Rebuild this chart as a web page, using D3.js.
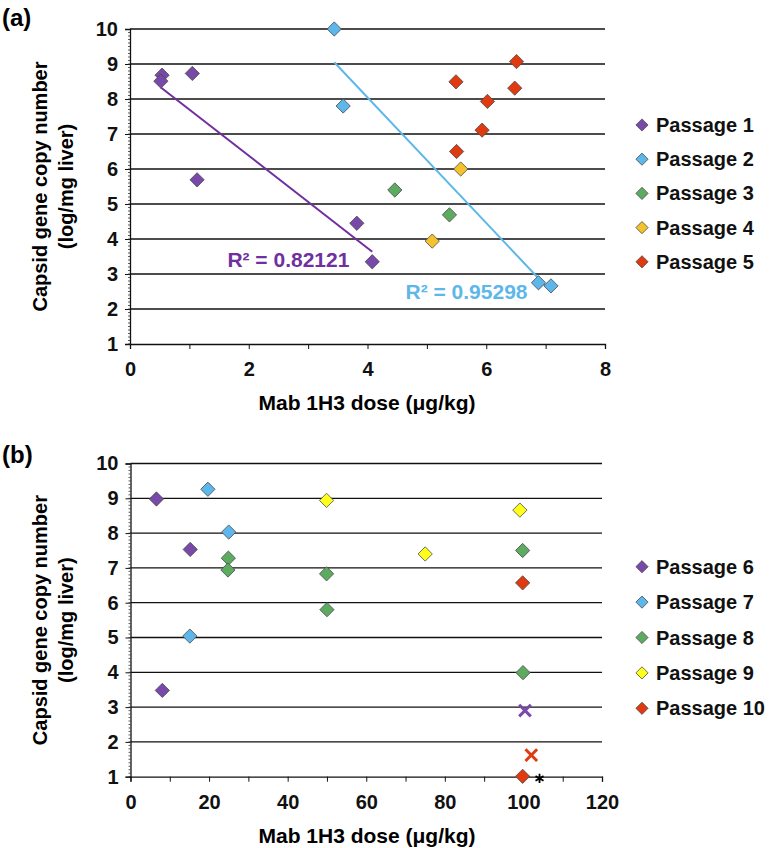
<!DOCTYPE html>
<html>
<head>
    <meta charset="utf-8">
    <script src="https://d3js.org/d3.v7.min.js"></script>
    <style>
        body { margin: 0; background: #fff; }
        text { font-family: "Liberation Sans", Arial, sans-serif; font-weight: bold; }
    </style>
</head>
<body>
<script>
    // ---- panel (a) data ----
    let namesA = ["Passage 1", "Passage 2", "Passage 3", "Passage 4", "Passage 5"];
    let doseA = [
        [0.54, 0.52, 1.05, 1.13, 3.82, 4.08],
        [3.44, 3.59, 6.88, 7.09],
        [4.46, 5.38],
        [5.57, 5.09],
        [6.51, 5.49, 6.48, 6.02, 5.93, 5.50]
    ];
    let copyA = [
        [8.68, 8.51, 8.73, 5.69, 4.45, 3.35],
        [10.0, 7.80, 2.75, 2.66],
        [5.40, 4.69],
        [6.00, 3.94],
        [9.07, 8.49, 8.31, 7.93, 7.11, 6.50]
    ];
    let r2Labels = ["R² = 0.82121", "R² = 0.95298"];
    let xTicksA = [0, 2, 4, 6, 8];

    // ---- panel (b) data ----
    let namesB = ["Passage 6", "Passage 7", "Passage 8", "Passage 9", "Passage 10"];
    let doseB = [
        [6.6, 15.2, 8.1],
        [19.7, 25.0, 15.1],
        [24.9, 24.8, 49.9, 50.0, 99.8, 99.9],
        [49.9, 75.0, 99.1],
        [99.8, 99.8]
    ];
    let copyB = [
        [8.98, 7.53, 3.48],
        [9.26, 8.03, 5.04],
        [7.28, 6.94, 6.83, 5.80, 7.50, 3.99],
        [8.94, 7.40, 8.66],
        [6.57, 1.01]
    ];
    let crossDose = [100.4, 102.0];   // "x" markers (passage 6, passage 10)
    let crossCopy = [2.90, 1.62];
    let starDose = [104.1];
    let starCopy = [0.95];
    let xTicksB = [0, 20, 40, 60, 80, 100, 120];

    let yTicks = [1, 2, 3, 4, 5, 6, 7, 8, 9, 10];

    let colorsA = ["#7849a9", "#5eb7ea", "#5dab60", "#f5c12d", "#e03a10"];
    let colorsB = ["#7849a9", "#5eb7ea", "#5dab60", "#ffff1a", "#e03a10"];

    let width = 770, height = 848;
    let svg = d3.select("body").append("svg")
        .attr("width", width)
        .attr("height", height);

    let diamond = d3.symbol().type(d3.symbolDiamond2);

    function fit(xs, ys) {
        let mx = d3.mean(xs), my = d3.mean(ys);
        let sxy = d3.sum(xs, (x, i) => (x - mx) * (ys[i] - my));
        let sxx = d3.sum(xs, x => (x - mx) * (x - mx));
        let b = sxy / sxx;
        return x => my + b * (x - mx);
    }

    function drawPanel(p) {
        let g = svg.append("g");
        let x = d3.scaleLinear().domain(p.xDomain).range([p.left, p.right]);
        let y = d3.scaleLinear().domain([1, 10]).range([p.bottom, p.top]);

        // panel letter
        g.append("text")
            .attr("x", 2).attr("y", p.letterY)
            .attr("font-size", 24)
            .text(p.letter);

        // gridlines
        g.selectAll(".grid")
            .data(yTicks.slice(1))
            .join("line")
            .attr("x1", p.left).attr("x2", p.right)
            .attr("y1", d => y(d)).attr("y2", d => y(d))
            .attr("stroke", "#111")
            .attr("stroke-width", 1.3);

        // y axis with minor ticks
        let yAxis = d3.axisLeft(y).tickValues(yTicks).tickSize(5).tickPadding(7);
        let ya = g.append("g").attr("transform", `translate(${p.left},0)`).call(yAxis);
        ya.select(".domain").attr("stroke", "#111").attr("stroke-width", 1.3);
        ya.selectAll("line").attr("stroke", "#111");
        ya.selectAll("text").attr("font-size", 20).attr("fill", "#111")
            .style("font-family", "'Liberation Sans', Arial, sans-serif").style("font-weight", "bold");
        let minor = d3.range(10, 100).map(d => d / 10);
        g.selectAll(".minor")
            .data(minor)
            .join("line")
            .attr("x1", p.left - 2).attr("x2", p.left)
            .attr("y1", d => y(d)).attr("y2", d => y(d))
            .attr("stroke", "#333").attr("stroke-width", 0.8);

        // x axis
        let xAxis = d3.axisBottom(x).tickValues(d3.range(p.xDomain[0], p.xDomain[1] + 1e-9, p.xStep))
            .tickSize(5).tickPadding(13)
            .tickFormat(d => p.xLabels.includes(d) ? d : "");
        let xa = g.append("g").attr("transform", `translate(0,${p.bottom})`).call(xAxis);
        xa.select(".domain").attr("stroke", "#111").attr("stroke-width", 1.3);
        xa.selectAll("line").attr("stroke", "#111");
        xa.selectAll("text").attr("font-size", 20).attr("fill", "#111")
            .style("font-family", "'Liberation Sans', Arial, sans-serif").style("font-weight", "bold");

        // axis titles
        g.append("text")
            .attr("x", 367).attr("y", p.bottom + 66)
            .attr("text-anchor", "middle").attr("font-size", 21)
            .text("Mab 1H3 dose (μg/kg)");
        let cy = (p.top + p.bottom) / 2;
        g.append("text")
            .attr("transform", `translate(47,${cy}) rotate(-90)`)
            .attr("text-anchor", "middle").attr("font-size", 20)
            .text("Capsid gene copy number");
        g.append("text")
            .attr("transform", `translate(73,${cy}) rotate(-90)`)
            .attr("text-anchor", "middle").attr("font-size", 20)
            .text("(log/mg liver)");

        // trend lines
        (p.trends || []).forEach(t => {
            let xs = p.dose[t.series], ys = p.copy[t.series];
            let f = fit(xs, ys);
            let ends = d3.extent(xs);
            g.append("line")
                .attr("x1", x(ends[0])).attr("y1", y(f(ends[0])))
                .attr("x2", x(ends[1])).attr("y2", y(f(ends[1])))
                .attr("stroke", t.color).attr("stroke-width", 2);
            g.append("text")
                .attr("x", x(t.lx)).attr("y", y(t.ly))
                .attr("fill", t.color).attr("font-size", 21)
                .text(t.label);
        });

        // markers
        p.dose.forEach((xs, s) => {
            g.selectAll(null)
                .data(xs.map((d, i) => [d, p.copy[s][i]]))
                .join("path")
                .attr("d", diamond.size(130))
                .attr("transform", d => `translate(${x(d[0])},${y(d[1])})`)
                .attr("fill", p.colors[s])
                .attr("stroke", "#4a4a4a")
                .attr("stroke-width", 0.8);
        });

        // legend
        p.names.forEach((n, i) => {
            let ly = p.legendY + i * p.legendStep;
            g.append("path")
                .attr("d", diamond.size(95))
                .attr("transform", `translate(${p.legendX},${ly})`)
                .attr("fill", p.colors[i])
                .attr("stroke", "#4a4a4a").attr("stroke-width", 0.8);
            g.append("text")
                .attr("x", p.legendX + 14).attr("y", ly + 7)
                .attr("font-size", 20).attr("fill", "#111")
                .text(n);
        });

        return {g, x, y};
    }

    drawPanel({
        letter: "(a)", letterY: 26,
        left: 130, right: 605, top: 29, bottom: 344,
        xDomain: [0, 8], xStep: 1, xLabels: xTicksA,
        dose: doseA, copy: copyA, names: namesA, colors: colorsA,
        legendX: 642, legendY: 125, legendStep: 34.2,
        trends: [
            {series: 0, color: "#7030a0", label: r2Labels[0], lx: 1.64, ly: 3.2},
            {series: 1, color: "#5eb7ea", label: r2Labels[1], lx: 4.64, ly: 2.29}
        ]
    });

    let pb = drawPanel({
        letter: "(b)", letterY: 463,
        left: 130.5, right: 602, top: 463.5, bottom: 776.7,
        xDomain: [0, 120], xStep: 10, xLabels: xTicksB,
        dose: doseB, copy: copyB, names: namesB, colors: colorsB,
        legendX: 642, legendY: 566.7, legendStep: 35.4
    });

    // extra "x" and "*" markers in panel (b)
    let crossColors = ["#7849a9", "#e03a10"];
    pb.g.selectAll(".cross")
        .data(crossDose.map((d, i) => [d, crossCopy[i], crossColors[i]]))
        .join("path")
        .attr("d", d3.symbol().type(d3.symbolTimes).size(90))
        .attr("transform", d => `translate(${pb.x(d[0])},${pb.y(d[1])})`)
        .attr("fill", "none")
        .attr("stroke", d => d[2])
        .attr("stroke-width", 3);
    pb.g.selectAll(".star")
        .data(starDose.map((d, i) => [d, starCopy[i]]))
        .join("path")
        .attr("d", d3.symbol().type(d3.symbolAsterisk).size(60))
        .attr("transform", d => `translate(${pb.x(d[0])},${pb.y(d[1])})`)
        .attr("fill", "none")
        .attr("stroke", "#000")
        .attr("stroke-width", 1.8);
</script>
</body>
</html>
